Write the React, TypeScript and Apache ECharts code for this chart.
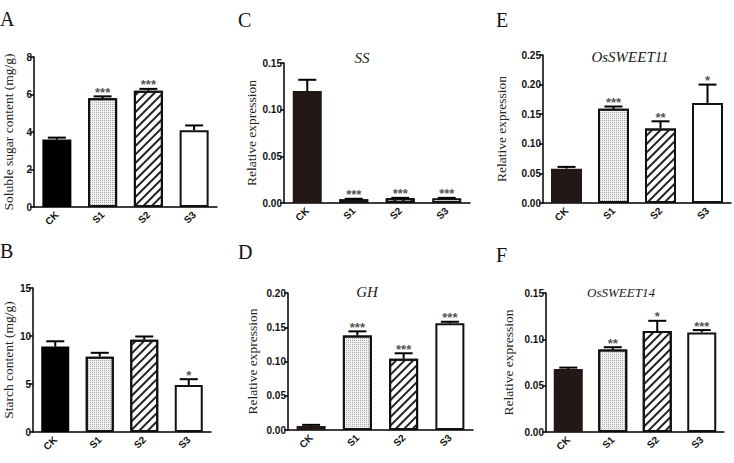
import React, { useEffect, useRef } from "react";
import * as echarts from "echarts";

// Treatment groups shared by every panel
const groups = ["CK", "S1", "S2", "S3"];

// A: soluble sugar content (mg/g)
const sugarMean = [3.6, 5.8, 6.2, 4.1];
const sugarTop = [3.7, 5.9, 6.3, 4.35];
const sugarSig = ["", "***", "***", ""];
const sugarTicks = [0, 2, 4, 6, 8];

// B: starch content (mg/g)
const starchMean = [8.9, 7.85, 9.6, 4.9];
const starchTop = [9.45, 8.25, 9.95, 5.5];
const starchSig = ["", "", "", "*"];
const starchTicks = [0, 5, 10, 15];

// C: SS relative expression
const ssMean = [0.12, 0.004, 0.005, 0.005];
const ssTop = [0.132, 0.0045, 0.0055, 0.0055];
const ssSig = ["", "***", "***", "***"];
const ssTicks = [0, 0.05, 0.1, 0.15];

// D: GH relative expression
const ghMean = [0.006, 0.138, 0.104, 0.156];
const ghTop = [0.0075, 0.144, 0.112, 0.158];
const ghSig = ["", "***", "***", "***"];
const ghTicks = [0, 0.05, 0.1, 0.15, 0.2];

// E: OsSWEET11 relative expression
const sweet11Mean = [0.058, 0.159, 0.126, 0.169];
const sweet11Top = [0.061, 0.163, 0.138, 0.2];
const sweet11Sig = ["", "***", "**", "*"];
const sweet11Ticks = [0, 0.05, 0.1, 0.15, 0.2, 0.25];

// F: OsSWEET14 relative expression
const sweet14Mean = [0.068, 0.089, 0.109, 0.1075];
const sweet14Top = [0.0695, 0.0915, 0.12, 0.11];
const sweet14Sig = ["", "**", "*", "***"];
const sweet14Ticks = [0, 0.05, 0.1, 0.15];

const SANS = '"Liberation Sans", Arial, sans-serif';
const SERIF = '"Liberation Serif", "Times New Roman", serif';

type Panel = {
  letter: string;
  letterPos: [number, number];
  title?: string;
  titlePos?: [number, number];
  titleSize?: number;
  yName: string;
  nameGap: number;
  grid: { left: number; top: number; width: number; height: number };
  barWidth: number;
  ckColor: string;
  digits: number;
  mean: number[];
  top: number[];
  sig: string[];
  ticks: number[];
};

const panels: Panel[] = [
  {
    letter: "A", letterPos: [0, 19], yName: "Soluble sugar content (mg/g)", nameGap: 19,
    grid: { left: 33, top: 57, width: 184, height: 150 }, barWidth: 29, ckColor: "#000", digits: 0,
    mean: sugarMean, top: sugarTop, sig: sugarSig, ticks: sugarTicks,
  },
  {
    letter: "B", letterPos: [0, 251], yName: "Starch content (mg/g)", nameGap: 17,
    grid: { left: 33, top: 288, width: 178, height: 144 }, barWidth: 28, ckColor: "#000", digits: 0,
    mean: starchMean, top: starchTop, sig: starchSig, ticks: starchTicks,
  },
  {
    letter: "C", letterPos: [238, 20], title: "SS", titlePos: [362, 58], titleSize: 15,
    yName: "Relative expression", nameGap: 26,
    grid: { left: 284, top: 63, width: 186, height: 140 }, barWidth: 29, ckColor: "#231815", digits: 2,
    mean: ssMean, top: ssTop, sig: ssSig, ticks: ssTicks,
  },
  {
    letter: "D", letterPos: [238, 252], title: "GH", titlePos: [367, 292], titleSize: 15,
    yName: "Relative expression", nameGap: 29,
    grid: { left: 288, top: 293, width: 185, height: 137 }, barWidth: 29, ckColor: "#231815", digits: 2,
    mean: ghMean, top: ghTop, sig: ghSig, ticks: ghTicks,
  },
  {
    letter: "E", letterPos: [496, 20], title: "OsSWEET11", titlePos: [630, 57], titleSize: 15,
    yName: "Relative expression", nameGap: 35,
    grid: { left: 543, top: 55, width: 188, height: 148 }, barWidth: 31, ckColor: "#231815", digits: 2,
    mean: sweet11Mean, top: sweet11Top, sig: sweet11Sig, ticks: sweet11Ticks,
  },
  {
    letter: "F", letterPos: [496, 255], title: "OsSWEET14", titlePos: [621, 292], titleSize: 13,
    yName: "Relative expression", nameGap: 31,
    grid: { left: 546, top: 293, width: 178, height: 139 }, barWidth: 29, ckColor: "#231815", digits: 2,
    mean: sweet14Mean, top: sweet14Top, sig: sweet14Sig, ticks: sweet14Ticks,
  },
];

function barStyle(group: number, ckColor: string) {
  const base = { borderColor: "#111", borderWidth: 2 };
  if (group === 0) return { color: ckColor, borderColor: ckColor, borderWidth: 2 };
  if (group === 1)
    return {
      ...base,
      color: "#f2f2f2",
      decal: {
        symbol: "rect",
        symbolSize: 1,
        dashArrayX: [1, 1],
        dashArrayY: [1, 1],
        color: "#a8a8a8",
        backgroundColor: "transparent",
      },
    };
  if (group === 2)
    return {
      ...base,
      color: "#fff",
      decal: {
        symbol: "rect",
        symbolSize: 1,
        dashArrayX: [1, 0],
        dashArrayY: [1.3, 3.1],
        rotation: -Math.PI / 4,
        color: "#222",
        backgroundColor: "transparent",
      },
    };
  return { ...base, color: "#fff" };
}

function buildOption() {
  const grid: any[] = [];
  const xAxis: any[] = [];
  const yAxis: any[] = [];
  const series: any[] = [];
  const graphic: any[] = [];

  panels.forEach((p, i) => {
    grid.push({ ...p.grid, containLabel: false });
    xAxis.push({
      gridIndex: i,
      type: "category",
      data: groups,
      axisLine: { lineStyle: { color: "#000", width: 1.5 } },
      axisTick: { alignWithLabel: true, length: 4, lineStyle: { color: "#000", width: 1.5 } },
      axisLabel: {
        rotate: 45,
        margin: 6,
        fontSize: 10,
        fontWeight: "bold",
        fontFamily: SANS,
        color: "#111",
      },
    });
    const interval = p.ticks[1] - p.ticks[0];
    yAxis.push({
      gridIndex: i,
      type: "value",
      min: p.ticks[0],
      max: p.ticks[p.ticks.length - 1],
      interval,
      axisLine: { show: true, lineStyle: { color: "#000", width: 1.5 } },
      axisTick: { show: true, length: 4, lineStyle: { color: "#000", width: 1.5 } },
      splitLine: { show: false },
      axisLabel: {
        margin: 2,
        fontSize: 10,
        fontWeight: "bold",
        fontFamily: SANS,
        color: "#111",
        formatter: (v: number) => v.toFixed(p.digits),
      },
      name: p.yName,
      nameLocation: "middle",
      nameGap: p.nameGap,
      nameTextStyle: { fontFamily: SERIF, fontSize: 13.5, color: "#222" },
    });

    groups.forEach((g, gi) => {
      series.push({
        type: "bar",
        name: g,
        xAxisIndex: i,
        yAxisIndex: i,
        barWidth: p.barWidth,
        barGap: "-100%",
        silent: true,
        data: p.mean.map((v, j) => (j === gi ? v : "-")),
        itemStyle: barStyle(gi, p.ckColor),
      });
    });

    // Upper error bars with caps and significance marks
    series.push({
      type: "custom",
      xAxisIndex: i,
      yAxisIndex: i,
      silent: true,
      z: 5,
      data: p.mean.map((v, j) => [j, v, p.top[j]]),
      renderItem: (params: any, api: any) => {
        const j = api.value(0);
        const base = api.coord([j, api.value(1)]);
        const tip = api.coord([j, api.value(2)]);
        const half = 9;
        const mark = p.sig[params.dataIndex];
        const children: any[] = [
          {
            type: "line",
            shape: { x1: base[0], y1: base[1], x2: tip[0], y2: tip[1] },
            style: { stroke: "#000", lineWidth: 2 },
          },
          {
            type: "line",
            shape: { x1: tip[0] - half, y1: tip[1], x2: tip[0] + half, y2: tip[1] },
            style: { stroke: "#000", lineWidth: 2 },
          },
        ];
        if (mark) {
          children.push({
            type: "text",
            x: tip[0],
            y: tip[1] - 4,
            style: {
              text: mark,
              fill: "#555",
              font: `bold 13px ${SANS}`,
              align: "center",
              verticalAlign: "middle",
            },
          });
        }
        return { type: "group", children };
      },
    });

    graphic.push({
      type: "text",
      x: p.letterPos[0],
      y: p.letterPos[1],
      style: {
        text: p.letter,
        font: `20px ${SERIF}`,
        fill: "#111",
        align: "left",
        verticalAlign: "middle",
      },
    });
    if (p.title && p.titlePos) {
      graphic.push({
        type: "text",
        x: p.titlePos[0],
        y: p.titlePos[1],
        style: {
          text: p.title,
          font: `italic ${p.titleSize}px ${SERIF}`,
          fill: "#222",
          align: "center",
          verticalAlign: "middle",
        },
      });
    }
  });

  return {
    animation: false,
    backgroundColor: "#fff",
    grid,
    xAxis,
    yAxis,
    series,
    graphic,
  };
}

export default function App() {
  const ref = useRef<HTMLDivElement>(null);
  useEffect(() => {
    if (!ref.current) return;
    const chart = echarts.init(ref.current, undefined, { renderer: "svg" });
    chart.setOption(buildOption() as any);
    return () => chart.dispose();
  }, []);
  return (
    <div
      ref={ref}
      style={{ position: "absolute", left: 0, top: 0, width: 734, height: 463, background: "#fff" }}
    />
  );
}
